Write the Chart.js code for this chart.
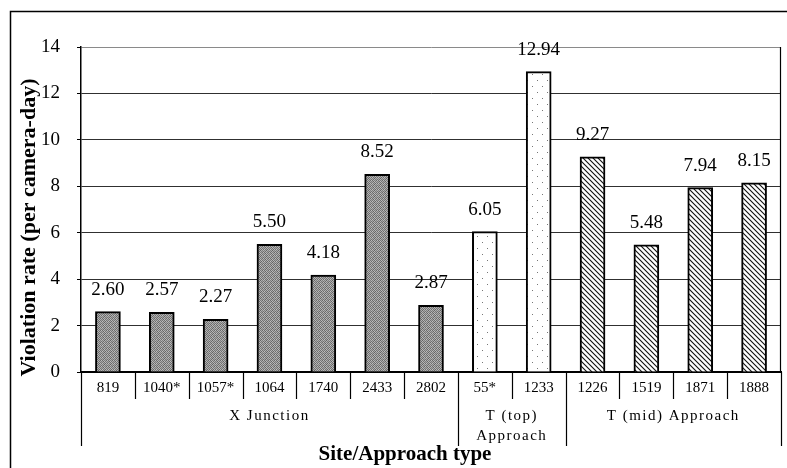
<!DOCTYPE html>
<html>
<head>
<meta charset="utf-8">
<script src="https://cdn.jsdelivr.net/npm/chart.js@4/dist/chart.umd.min.js"></script>
<style>
  html, body { margin: 0; padding: 0; background: #fff; }
  #wrap { width: 787px; height: 468px; }
</style>
</head>
<body>
<div id="wrap"><canvas id="c" width="787" height="468"></canvas></div>
<script>
// Site identifiers along the category axis
const sites = ['819', '1040*', '1057*', '1064', '1740', '2433', '2802', '55*', '1233', '1226', '1519', '1871', '1888'];
// Violation rate per camera-day for each site
const rates = [2.60, 2.57, 2.27, 5.50, 4.18, 8.52, 2.87, 6.05, 12.94, 9.27, 5.48, 7.94, 8.15];
// Approach-type groups and how many sites each one holds
const groupNames = [['X Junction'], ['T (top)', 'Approach'], ['T (mid) Approach']];
const groupSizes = [7, 2, 4];
// Value axis ticks
const yTicks = [0, 2, 4, 6, 8, 10, 12, 14];

const SERIF = '"Liberation Serif", "Times New Roman", serif';

// Fill textures for the three approach types
function makePattern(kind) {
  const p = document.createElement('canvas');
  const g = p.getContext('2d');
  if (kind === 0) {
    // stippled grey
    const shades = [
      '#6a6a6a', '#b4b4b4', '#7a7a7a', '#a8a8a8', '#686868', '#bcbcbc',
      '#a6a6a6', '#646464', '#bebebe', '#727272', '#aeaeae', '#7c7c7c',
      '#787878', '#b2b2b2', '#6e6e6e', '#bababa', '#747474', '#a4a4a4',
      '#c0c0c0', '#707070', '#aaaaaa', '#666666', '#b8b8b8', '#6c6c6c',
      '#7e7e7e', '#acacac', '#626262', '#b0b0b0', '#808080', '#b4b4b4',
      '#a8a8a8', '#6a6a6a', '#b6b6b6', '#767676', '#a2a2a2', '#707070'
    ];
    p.width = 6; p.height = 6;
    for (let r = 0; r < 6; r++) for (let c = 0; c < 6; c++) {
      g.fillStyle = shades[r * 6 + c]; g.fillRect(c, r, 1, 1);
    }
  } else if (kind === 1) {
    // white with sparse dots
    p.width = 10; p.height = 12;
    g.fillStyle = '#ffffff'; g.fillRect(0, 0, 10, 12);
    g.fillStyle = '#777777';
    g.fillRect(2, 2, 1, 1);
    g.fillRect(7, 8, 1, 1);
  } else {
    // white with back-slash hatching
    p.width = 5; p.height = 5;
    g.fillStyle = '#ffffff'; g.fillRect(0, 0, 5, 5);
    g.strokeStyle = '#111111'; g.lineWidth = 1.1;
    g.beginPath();
    g.moveTo(-1, -1); g.lineTo(6, 6);
    g.moveTo(-1, 4); g.lineTo(1, 6);
    g.moveTo(4, -1); g.lineTo(6, 1);
    g.stroke();
  }
  return g.createPattern(p, 'repeat');
}

const ctx0 = document.getElementById('c').getContext('2d');
const patterns = [makePattern(0), makePattern(1), makePattern(2)];

// group index of every site
const siteGroup = [];
groupSizes.forEach((n, gi) => { for (let k = 0; k < n; k++) siteGroup.push(gi); });

const decor = {
  id: 'decor',
  beforeDraw(chart) {
    const c = chart.ctx;
    c.save();
    c.fillStyle = '#fff';
    c.fillRect(0, 0, chart.width, chart.height);
    c.restore();
  },
  afterDatasetsDraw(chart) {
    const c = chart.ctx;
    const meta = chart.getDatasetMeta(0);
    c.save();
    c.font = '19px ' + SERIF;
    c.fillStyle = '#000';
    c.textAlign = 'center';
    c.textBaseline = 'alphabetic';
    meta.data.forEach((bar, i) => {
      c.fillText(rates[i].toFixed(2), bar.x, bar.y - 17);
    });
    c.restore();
  },
  afterDraw(chart) {
    const c = chart.ctx;
    const a = chart.chartArea;
    const x = chart.scales.x;
    const step = x.getPixelForValue(1) - x.getPixelForValue(0);
    const edge = i => x.getPixelForValue(0) - step / 2 + i * step;

    c.save();
    c.strokeStyle = '#000';

    // outer frame (top and left)
    c.lineWidth = 1.5;
    c.beginPath();
    c.moveTo(10.5, chart.height); c.lineTo(10.5, 11.5); c.lineTo(chart.width, 11.5);
    c.stroke();

    // right edge of the plot box
    c.lineWidth = 1.2;
    c.beginPath();
    c.moveTo(a.right - 0.5, a.top); c.lineTo(a.right - 0.5, a.bottom);
    c.stroke();

    // category dividers, longer at group boundaries
    const bounds = [0];
    groupSizes.forEach(n => bounds.push(bounds[bounds.length - 1] + n));
    c.lineWidth = 1.2;
    for (let i = 0; i <= sites.length; i++) {
      const px = Math.round(edge(i)) + 0.5;
      const long = bounds.includes(i);
      c.beginPath();
      c.moveTo(px, a.bottom);
      c.lineTo(px, a.bottom + (long ? 74 : 27));
      c.stroke();
    }

    // group labels
    c.fillStyle = '#000';
    c.font = '15px ' + SERIF;
    c.letterSpacing = '1.5px';
    c.textAlign = 'center';
    c.textBaseline = 'middle';
    groupNames.forEach((lines, gi) => {
      const cx = (edge(bounds[gi]) + edge(bounds[gi + 1])) / 2;
      lines.forEach((t, li) => c.fillText(t, cx, a.bottom + 44 + li * 20));
    });
    c.letterSpacing = '0px';

    // axis titles
    c.font = 'bold 21px ' + SERIF;
    c.textBaseline = 'alphabetic';
    c.fillText('Site/Approach type', 405, 460);
    c.textBaseline = 'middle';
    c.font = 'bold 22px ' + SERIF;
    c.translate(29, (a.top + a.bottom) / 2 + 18);
    c.rotate(-Math.PI / 2);
    c.fillText('Violation rate (per camera-day)', 0, 0);
    c.restore();
  }
};

new Chart(ctx0, {
  type: 'bar',
  data: {
    labels: sites,
    datasets: [{
      data: rates,
      backgroundColor: ctx => patterns[siteGroup[ctx.dataIndex]],
      borderColor: '#000',
      borderWidth: 2,
      barThickness: 25
    }]
  },
  options: {
    responsive: false,
    animation: false,
    layout: { padding: { top: 47, right: 6, left: 0, bottom: 0 } },
    plugins: { legend: { display: false }, tooltip: { enabled: false } },
    scales: {
      x: {
        offset: true,
        grid: { display: false, drawTicks: false },
        border: { display: true, color: '#000', width: 2 },
        ticks: {
          color: '#000',
          font: { family: SERIF, size: 15 },
          padding: 7,
          maxRotation: 0,
          autoSkip: false
        },
        afterFit: s => { s.height = 96; }
      },
      y: {
        min: 0,
        max: 14,
        afterBuildTicks: s => { s.ticks = yTicks.map(v => ({ value: v })); },
        grid: {
          color: ctx => ctx.tick && ctx.tick.value === 14 ? '#8a8a8a' : '#303030',
          lineWidth: 1,
          tickLength: 4,
          tickColor: '#000'
        },
        border: { display: true, color: '#000', width: 1.5 },
        ticks: {
          color: '#000',
          font: { family: SERIF, size: 19 },
          padding: 17
        },
        afterFit: s => { s.width = 81; }
      }
    }
  },
  plugins: [decor]
});
</script>
</body>
</html>
